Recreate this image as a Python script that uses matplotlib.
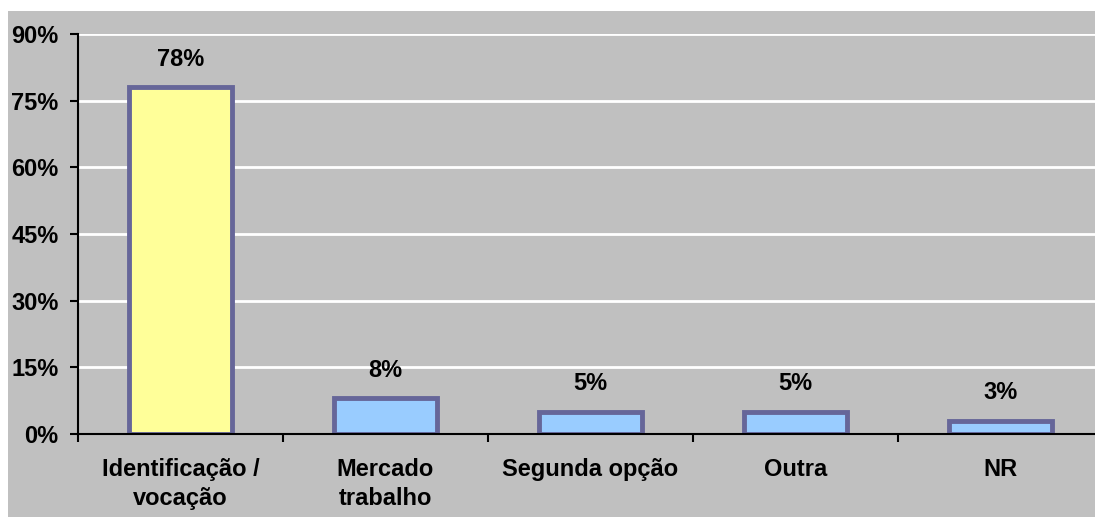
import matplotlib
matplotlib.use('Agg')
import matplotlib.pyplot as plt
from matplotlib.patches import Rectangle
import numpy as np

categories = ['Identificação /\nvocação', 'Mercado\ntrabalho', 'Segunda opção', 'Outra', 'NR']
values = [78, 8, 5, 5, 3]
colors = ['#ffff99', '#99ccff', '#99ccff', '#99ccff', '#99ccff']
yticks = [0, 15, 30, 45, 60, 75, 90]

plt.rcParams['font.family'] = ['Liberation Sans', 'DejaVu Sans']
plt.rcParams['font.weight'] = 'bold'
fs = 17

W, H = 1095, 517
fig = plt.figure(figsize=(W / 100, H / 100), dpi=100, facecolor='white')
bg = Rectangle((8 / W, 0), 1 - 8 / W, 1 - 11 / H, transform=fig.transFigure,
               facecolor='#c0c0c0', edgecolor='none', zorder=-10)
fig.add_artist(bg)

# plot area in pixels: x 78..1103, y 34..434 (top-origin)
left, right, top, bottom = 78, 1103, 34, 434
ax = fig.add_axes([left / W, 1 - bottom / H, (right - left) / W, (bottom - top) / H])
ax.set_facecolor('#c0c0c0')

x = np.arange(len(categories))
ax.bar(x, values, width=0.5, color=colors, edgecolor='#666699', linewidth=3.5, zorder=3)
for xi, v in zip(x, values):
    ax.annotate(f'{v}%', (xi, v), xytext=(0, 20), textcoords='offset points',
                ha='center', va='center', fontsize=fs, fontweight='bold')

ax.set_xlim(-0.5, len(categories) - 0.5)
ax.set_ylim(0, 90)
ax.set_yticks(yticks)
ax.set_yticklabels([f'{t}%' for t in yticks], fontsize=fs, fontweight='bold')
ax.yaxis.grid(True, color='white', linewidth=2, zorder=1)
ax.set_axisbelow(True)

ax.set_xticks(x)
ax.set_xticklabels(categories, fontsize=fs, fontweight='bold', linespacing=1.35)
ax.set_xticks(np.arange(len(categories) + 1) - 0.5, minor=True)
ax.tick_params(axis='x', which='major', length=0, pad=17)
ax.tick_params(axis='x', which='minor', length=6, width=1.5, direction='out')
ax.tick_params(axis='y', length=6, width=1.5, direction='out', pad=8)

for s in ['top', 'right']:
    ax.spines[s].set_visible(False)
ax.spines['left'].set_linewidth(1.5)
ax.spines['bottom'].set_linewidth(1.5)
ax.spines['bottom'].set_zorder(4)

fig.savefig('out.png', dpi=100, facecolor='white')
